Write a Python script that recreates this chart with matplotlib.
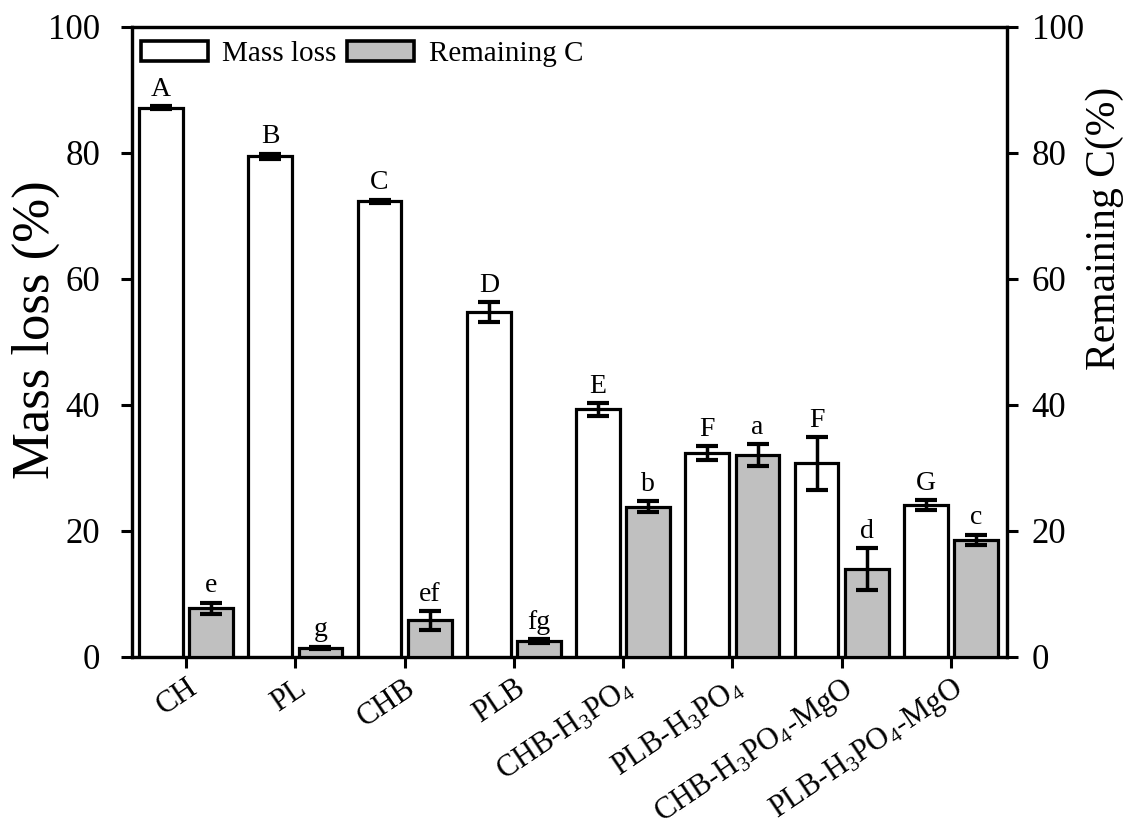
import matplotlib
matplotlib.use("Agg")
import matplotlib.pyplot as plt
import numpy as np
from matplotlib.patches import Patch

plt.rcParams['font.family'] = ['Liberation Serif', 'DejaVu Serif']
plt.rcParams['mathtext.fontset'] = 'custom'
plt.rcParams['mathtext.rm'] = 'Liberation Serif'
plt.rcParams['mathtext.it'] = 'Liberation Serif:italic'

categories = ['CH', 'PL', 'CHB', 'PLB', 'CHB-H$_3$PO$_4$', 'PLB-H$_3$PO$_4$',
              'CHB-H$_3$PO$_4$-MgO', 'PLB-H$_3$PO$_4$-MgO']
mass_loss = [87.2, 79.5, 72.3, 54.7, 39.3, 32.3, 30.7, 24.1]
mass_loss_err = [0.2, 0.4, 0.3, 1.6, 1.0, 1.1, 4.2, 0.8]
mass_letters = ['A', 'B', 'C', 'D', 'E', 'F', 'F', 'G']
remaining_c = [7.7, 1.4, 5.8, 2.5, 23.8, 32.0, 13.9, 18.6]
remaining_c_err = [0.9, 0.2, 1.5, 0.3, 0.9, 1.7, 3.3, 0.8]
c_letters = ['e', 'g', 'ef', 'fg', 'b', 'a', 'd', 'c']
yticks = [0, 20, 40, 60, 80, 100]

fig = plt.figure(figsize=(11.35, 8.3), dpi=100)
ax = fig.add_axes([0.1163, 0.2088, 0.7707, 0.7587])
ax2 = ax.twinx()

x = np.arange(len(categories))
w = 0.40
off = 0.23
ekw = dict(elinewidth=2.5, capthick=3, capsize=8, ecolor='black')
ax.bar(x - off, mass_loss, w, color='white', edgecolor='black', linewidth=2.3,
       yerr=mass_loss_err, error_kw=ekw, zorder=3)
ax2.bar(x + off, remaining_c, w, color='#c0c0c0', edgecolor='black', linewidth=2.3,
        yerr=remaining_c_err, error_kw=ekw, zorder=3)

for xi, v, e, t in zip(x, mass_loss, mass_loss_err, mass_letters):
    ax.annotate(t, (xi - off, v + e), xytext=(0, 3), textcoords='offset points',
                ha='center', va='bottom', fontsize=20)
for xi, v, e, t in zip(x, remaining_c, remaining_c_err, c_letters):
    ax2.annotate(t, (xi + off, v + e), xytext=(0, 3), textcoords='offset points',
                 ha='center', va='bottom', fontsize=20)

for a in (ax, ax2):
    a.set_ylim(0, 100)
    a.set_xlim(-0.495, 7.51)
    a.set_yticks(yticks)
    for s in a.spines.values():
        s.set_linewidth(2.3)

ax.set_xticks(x)
ax.set_xticklabels(categories, rotation=34, ha='right', rotation_mode='anchor', fontsize=22)
ax.tick_params(axis='x', direction='out', length=8, width=2.2, pad=4)
ax.tick_params(axis='y', direction='out', length=8, width=2.2, labelsize=25, pad=15)
ax2.tick_params(axis='y', direction='out', length=8, width=2.2, labelsize=25, pad=10)

ax.set_ylabel('Mass loss (%)', fontsize=38)
ax.yaxis.set_label_coords(-0.082, 0.519)
ax2.set_ylabel('Remaining C(%)', fontsize=30, rotation=90)
ax2.yaxis.set_label_coords(1.0895, 0.68)

handles = [Patch(facecolor='white', edgecolor='black', linewidth=2.6),
           Patch(facecolor='#c0c0c0', edgecolor='black', linewidth=2.6)]
ax.legend(handles, ['Mass loss', 'Remaining C'], loc='upper left', ncol=2,
          frameon=False, fontsize=21, handlelength=2.3, handleheight=0.7,
          columnspacing=0.35, handletextpad=0.5, borderaxespad=0.0,
          borderpad=0.3, bbox_to_anchor=(0.0, 0.992))

fig.savefig('out.png', dpi=100)
